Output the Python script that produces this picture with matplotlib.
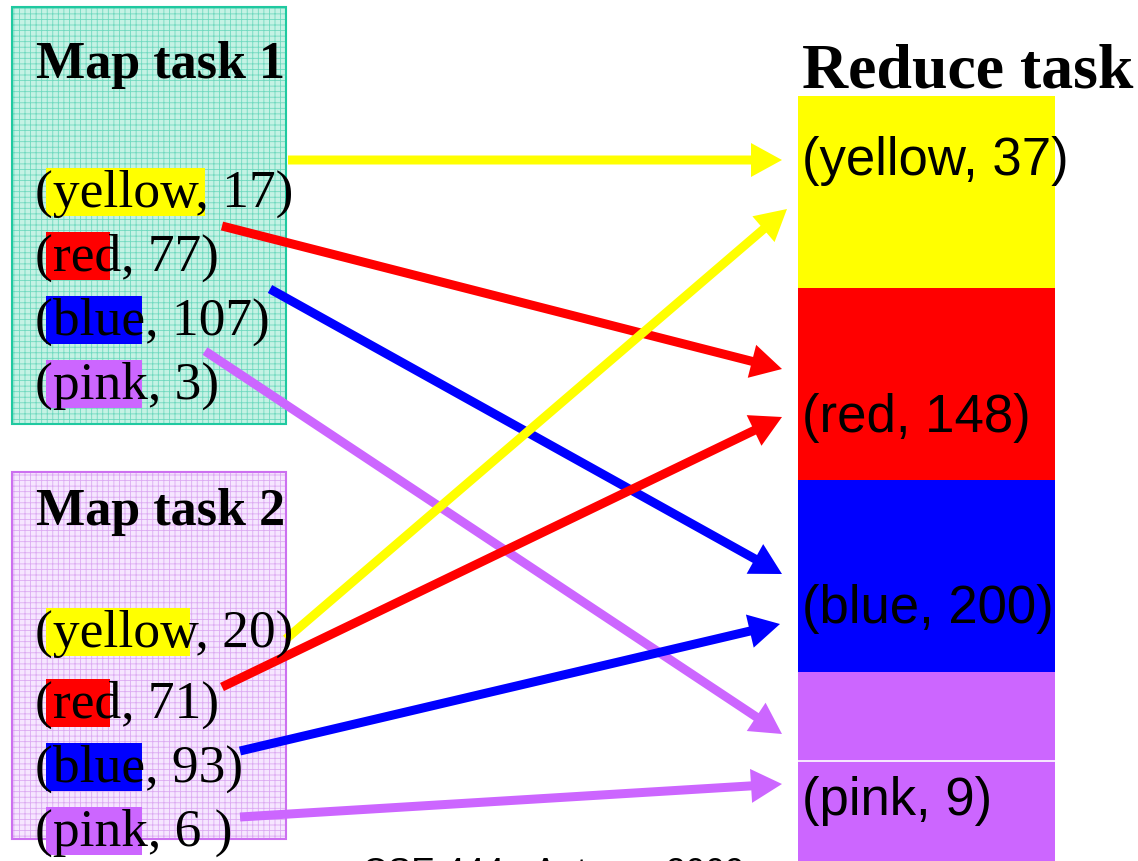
import matplotlib
matplotlib.use("Agg")
import matplotlib.pyplot as plt
from matplotlib.patches import Rectangle

# ---- data ----
keys = ["yellow", "red", "blue", "pink"]
key_colors = ["#ffff00", "#ff0000", "#0000ff", "#cc66ff"]
map1_values = [17, 77, 107, 3]
map2_values = [20, 71, 93, 6]
reduce_values = [37, 148, 200, 9]
map1_labels = [f"({k}, {v})" for k, v in zip(keys, map1_values)]
map2_labels = ["(yellow, 20)", "(red, 71)", "(blue, 93)", "(pink, 6 )"]
reduce_labels = [f"({k}, {v})" for k, v in zip(keys, reduce_values)]
map_titles = ["Map task 1", "Map task 2"]
reduce_title = "Reduce task"
footer = "CSE 444 - Autumn 2009"

# ---- layout (pixel space) ----
W, H = 1138, 862
fig = plt.figure(figsize=(W / 100, H / 100), dpi=100)
ax = fig.add_axes([0, 0, 1, 1])
ax.set_xlim(0, W)
ax.set_ylim(H, 0)
ax.axis("off")

serif = "Liberation Serif"
sans = "Liberation Sans"

map_boxes = [
    ((12, 8, 286, 425), "#c4f2e4", "#6fd9bf", "#1fc9a0"),
    ((12, 473, 286, 840), "#f6e6ff", "#dcaaf2", "#cc70f0"),
]
title_baselines = [78, 525]
row_baselines = [[207, 271, 335, 399], [647, 718, 782, 846]]
hl_widths = [[159, 64, 96, 96], [144, 64, 96, 96]]
labels = [map1_labels, map2_labels]

plt.rcParams["hatch.linewidth"] = 0.6
for (box, face, hcol, edge), tb, rbs, hws, labs, title in zip(
        map_boxes, title_baselines, row_baselines, hl_widths, labels, map_titles):
    x0, y0, x1, y1 = box
    ax.add_patch(Rectangle((x0, y0), x1 - x0, y1 - y0, facecolor=face,
                           edgecolor="none", zorder=1))
    ax.add_patch(Rectangle((x0, y0), x1 - x0, y1 - y0, facecolor="none",
                           edgecolor=hcol, hatch="+++", linewidth=0, zorder=1.1))
    ax.add_patch(Rectangle((x0, y0), x1 - x0, y1 - y0, facecolor="none",
                           edgecolor=edge, linewidth=1.5, zorder=1.2))
    ax.text(36, tb, title, fontfamily=serif, fontweight="bold", fontsize=37.5,
            va="baseline", ha="left", zorder=5)
    for c, lab, b, hw in zip(key_colors, labs, rbs, hws):
        ax.add_patch(Rectangle((46, b - 38), hw, 48, facecolor=c,
                               edgecolor="none", zorder=2))
        ax.text(35, b, lab, fontfamily=serif, fontsize=38.5,
                va="baseline", ha="left", zorder=5)

# reduce stack
rx0, rx1 = 798, 1055
seg_edges = [97, 289, 481, 673, 862]
for c, ya, yb in zip(key_colors, seg_edges[:-1], seg_edges[1:]):
    ax.add_patch(Rectangle((rx0, ya), rx1 - rx0, yb - ya, facecolor=c,
                           edgecolor="none", zorder=2))
ax.plot([rx0, rx1], [762, 762], color="white", lw=1.2, zorder=3)
reduce_baselines = [175, 432, 623, 815]
for lab, b in zip(reduce_labels, reduce_baselines):
    ax.text(802, b, lab, fontfamily=sans, fontsize=38,
            va="baseline", ha="left", zorder=5)
ax.text(802, 88, reduce_title, fontfamily=serif, fontweight="bold",
        fontsize=46, va="baseline", ha="left", zorder=5)

# arrows: start -> end
arrow_starts = [(288, 161), (222, 227), (270, 290), (205, 352),
                (286, 640), (222, 688), (240, 752), (240, 818)]
arrow_ends = [(782, 161), (782, 370), (782, 575), (782, 735),
              (787, 210), (782, 418), (780, 625), (782, 785)]
arrow_colors = key_colors + key_colors
for (sx, sy), (ex, ey), c in zip(arrow_starts, arrow_ends, arrow_colors):
    ax.arrow(sx, sy, ex - sx, ey - sy, width=9, head_width=34, head_length=31,
             length_includes_head=True, color=c, linewidth=0, zorder=4)

# footer, cut off by the bottom edge as in the source slide
ax.text(362, 884, footer, fontfamily=sans, fontsize=25.6, va="baseline",
        ha="left", zorder=5)

fig.savefig("out.png", dpi=100)
